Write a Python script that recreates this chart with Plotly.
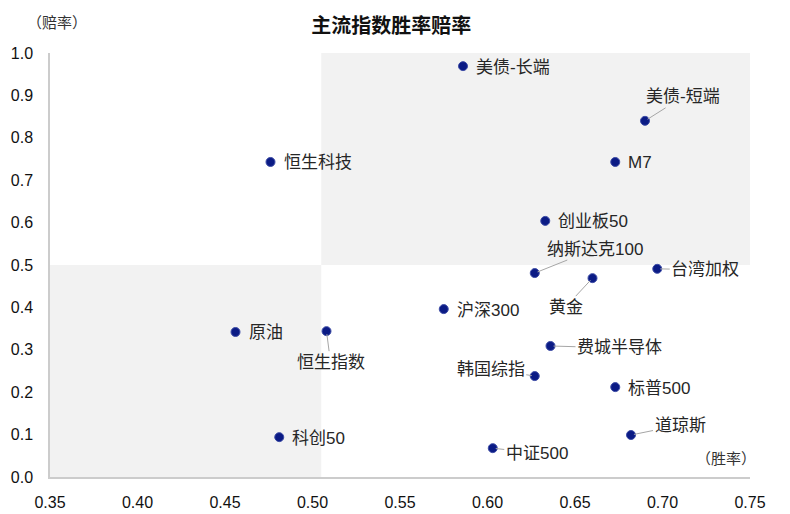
import plotly.graph_objects as go

# 胜率 (x) / 赔率 (y)
names = ['美债-长端', '美债-短端', 'M7', '恒生科技', '创业板50', '纳斯达克100', '黄金',
         '台湾加权', '沪深300', '原油', '恒生指数', '费城半导体', '韩国综指', '标普500',
         '道琼斯', '科创50', '中证500']
win_rate = [0.586, 0.690, 0.673, 0.476, 0.633, 0.627, 0.660,
            0.697, 0.575, 0.456, 0.508, 0.636, 0.627, 0.673,
            0.682, 0.481, 0.603]
odds = [0.969, 0.840, 0.743, 0.743, 0.604, 0.481, 0.469,
        0.491, 0.396, 0.342, 0.344, 0.309, 0.238, 0.212,
        0.099, 0.094, 0.068]

x_ticks = [0.35, 0.40, 0.45, 0.50, 0.55, 0.60, 0.65, 0.70, 0.75]
y_ticks = [0.0, 0.1, 0.2, 0.3, 0.4, 0.5, 0.6, 0.7, 0.8, 0.9, 1.0]

# labels with a leader line: pixel offset of text centre from the point
leader = {
    '美债-短端': (38, -24),
    '纳斯达克100': (60, -24),
    '黄金': (-27, 29),
    '台湾加权': (48, 1),
    '费城半导体': (69, 2),
    '韩国综指': (-44, -7),
    '恒生指数': (4, 31),
    '道琼斯': (49, -10),
    '中证500': (44, 5),
}

font_main = 'Liberation Sans, Arial, Noto Sans CJK SC'
grey_fill = '#f2f2f2'

fig = go.Figure()

fig.add_trace(go.Scatter(
    x=win_rate, y=odds, mode='markers',
    marker=dict(size=9, color='#0b1b85', line=dict(color='#3d4ca6', width=1)),
    hoverinfo='text', text=names, showlegend=False,
))

# quadrant shading
fig.add_shape(type='rect', xref='x', yref='y', x0=0.505, x1=0.75, y0=0.5, y1=1.0,
              fillcolor=grey_fill, line=dict(width=0), layer='below')
fig.add_shape(type='rect', xref='x', yref='y', x0=0.35, x1=0.505, y0=0.0, y1=0.5,
              fillcolor=grey_fill, line=dict(width=0), layer='below')

for n, xv, yv in zip(names, win_rate, odds):
    if n in leader:
        ax, ay = leader[n]
        fig.add_annotation(
            x=xv, y=yv, xref='x', yref='y', text=n, showarrow=True,
            ax=ax, ay=ay, arrowhead=0, arrowwidth=1, arrowcolor='#a6a6a6',
            standoff=3, font=dict(size=17, color='#262626', family=font_main),
        )
    else:
        fig.add_annotation(
            x=xv, y=yv, xref='x', yref='y', text=n, showarrow=False,
            xanchor='left', xshift=11, yshift=-1,
            font=dict(size=17, color='#262626', family=font_main),
        )

# axis captions
fig.add_annotation(x=0.0, y=1.0, xref='paper', yref='paper', yshift=31, xshift=-25,
                   xanchor='left', yanchor='middle', text='（赔率）', showarrow=False,
                   font=dict(size=15, color='#333333', family=font_main))
fig.add_annotation(x=1.0, y=0.0, xref='paper', yref='paper', yshift=19, xshift=8,
                   xanchor='right', yanchor='middle', text='（胜率）', showarrow=False,
                   font=dict(size=15, color='#333333', family=font_main))

# page body adds an 8px offset, so the figure is 8px smaller each way
fig.update_layout(
    width=782, height=506,
    margin=dict(l=42, r=40, t=45, b=37),
    paper_bgcolor='white', plot_bgcolor='white',
    title=dict(text='<b>主流指数胜率赔率</b>', x=0.49, xanchor='center', y=0.965, yanchor='middle',
               font=dict(size=20, color='#111111', family='Noto Sans CJK SC')),
    xaxis=dict(range=[0.35, 0.75], tickvals=x_ticks, tickformat='.2f', automargin=False,
               showgrid=False, zeroline=False, showline=True, linecolor='#cccccc',
               linewidth=1.5, ticks='', ticklabelstandoff=10,
               tickfont=dict(size=16, color='#111111', family=font_main)),
    yaxis=dict(range=[0, 1.0], tickvals=y_ticks, tickformat='.1f', automargin=False,
               showgrid=False, zeroline=False, showline=True, linecolor='#cccccc',
               linewidth=1.5, ticks='', ticklabelstandoff=12,
               tickfont=dict(size=16, color='#111111', family=font_main)),
    font=dict(family=font_main),
)

fig.write_html('out.html')
